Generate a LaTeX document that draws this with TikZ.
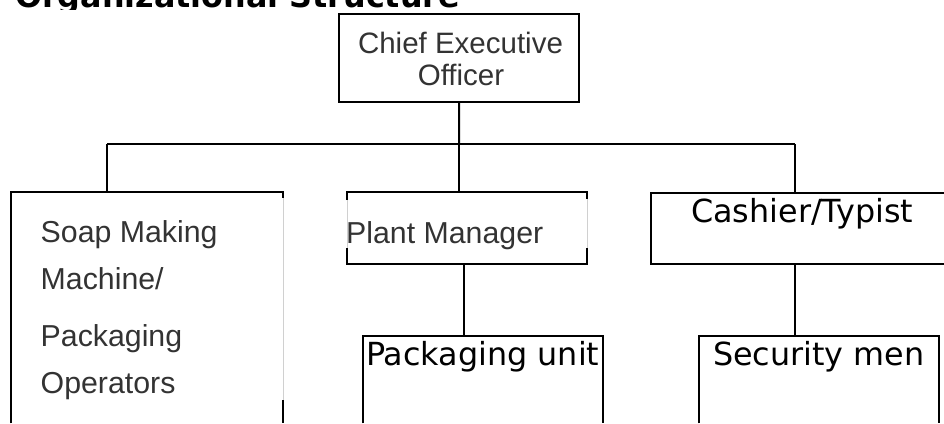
\documentclass[tikz,border=0pt]{standalone}
\usepackage{fontspec}
\newfontfamily\lsans{Liberation Sans}
\newfontfamily\dsans{DejaVu Sans}
\definecolor{txtgray}{HTML}{333333}
\definecolor{lightedge}{HTML}{D0D0D0}
\tikzset{
  box/.style={draw=none, inner sep=0pt, anchor=north west},
  edge/.style={line width=2pt, black},
  faint/.style={line width=1pt, lightedge},
  conn/.style={line width=2pt, black},
  grtxt/.style={inner sep=0pt, text=txtgray, font=\lsans\fontsize{30.3}{33}\selectfont},
  ceotxt/.style={inner sep=0pt, text=txtgray, font=\lsans\fontsize{29.5}{32}\selectfont},
  bktxt/.style={inner sep=0pt, text=black, font=\dsans\fontsize{31.8}{34}\selectfont},
}
\begin{document}
\begin{tikzpicture}[x=1pt, y=1pt]
\useasboundingbox (0,0) rectangle (944,-423);
\fill[white] (0,0) rectangle (944,-423);

% title (cut off at the top of the picture)
\begin{scope}
  \clip (0,0) rectangle (944,-9.5);
  \node[inner sep=0pt, anchor=base west, font=\dsans\bfseries\fontsize{31.8}{34}\selectfont] (title) at (15,-8) {Organizational Structure};
\end{scope}

% boxes
\node[box, minimum width=240pt, minimum height=88pt] (ceo) at (339,-14) {};
\node[box, minimum width=272pt, minimum height=231pt] (soap) at (11,-192) {};
\node[box, minimum width=240pt, minimum height=72pt] (plant) at (347,-192) {};
\node[box, minimum width=293pt, minimum height=71pt] (cash) at (651,-193) {};
\node[box, minimum width=240pt, minimum height=87pt] (pack) at (363,-336) {};
\node[box, minimum width=240pt, minimum height=87pt] (secu) at (699,-336) {};

% CEO box
\draw[edge] (ceo.north west) rectangle (ceo.south east);
% soap box (open at the bottom, right side mostly faint)
\draw[faint] ([yshift=-6pt]soap.north east) -- ([yshift=23pt]soap.south east);
\draw[edge] (soap.south west) -- (soap.north west) -- (soap.north east) -- ([yshift=-6pt]soap.north east);
\draw[edge] ([yshift=23pt]soap.south east) -- (soap.south east);
% plant box (sides faint in the middle)
\draw[faint] ([yshift=-8pt]plant.north west) -- ([yshift=16pt]plant.south west);
\draw[faint] ([yshift=-7pt]plant.north east) -- ([yshift=16pt]plant.south east);
\draw[edge] ([yshift=-8pt]plant.north west) -- (plant.north west) -- (plant.north east) -- ([yshift=-7pt]plant.north east);
\draw[edge] ([yshift=16pt]plant.south west) -- (plant.south west) -- (plant.south east) -- ([yshift=16pt]plant.south east);
% cashier box (runs off the right edge)
\draw[edge] (cash.north east) -- (cash.north west) -- (cash.south west) -- (cash.south east);
% packaging and security boxes (open at the bottom)
\draw[edge] (pack.south west) -- (pack.north west) -- (pack.north east) -- (pack.south east);
\draw[edge] (secu.south west) -- (secu.north west) -- (secu.north east) -- (secu.south east);

% connectors
\coordinate (busL) at (107,-144);
\coordinate (busM) at (459,-144);
\coordinate (busR) at (795,-144);
\draw[conn] (ceo.south) -- (busM);
\draw[conn] (busL) -- (busR);
\draw[conn] (busL) -- (busL |- soap.north);
\draw[conn] (busM) -- (busM |- plant.north);
\draw[conn] (busR) -- (busR |- cash.north);
\coordinate (pdrop) at (464,-264);
\draw[conn] (pdrop) -- (pdrop |- pack.north);
\coordinate (cdrop) at (795,-264);
\draw[conn] (cdrop) -- (cdrop |- secu.north);

% texts
\node[ceotxt, anchor=base] (ceo1) at (460.5,-53) {Chief Executive};
\node[ceotxt, anchor=base] (ceo2) at (461,-85) {Officer};
\node[grtxt, anchor=base west] (s1) at (40.5,-242) {Soap Making};
\node[grtxt, anchor=base west] (s2) at (40.5,-289) {Machine/};
\node[grtxt, anchor=base west] (s3) at (40.5,-346) {Packaging};
\node[grtxt, anchor=base west] (s4) at (40.5,-393) {Operators};
\node[grtxt, anchor=base west] (pm) at (346,-243) {Plant Manager};
\node[bktxt, anchor=base west] (ct) at (691,-222) {Cashier/Typist};
\node[bktxt, anchor=base west] (pu) at (366,-365) {Packaging unit};
\node[bktxt, anchor=base west] (sm) at (713,-365) {Security men};
\end{tikzpicture}
\end{document}
